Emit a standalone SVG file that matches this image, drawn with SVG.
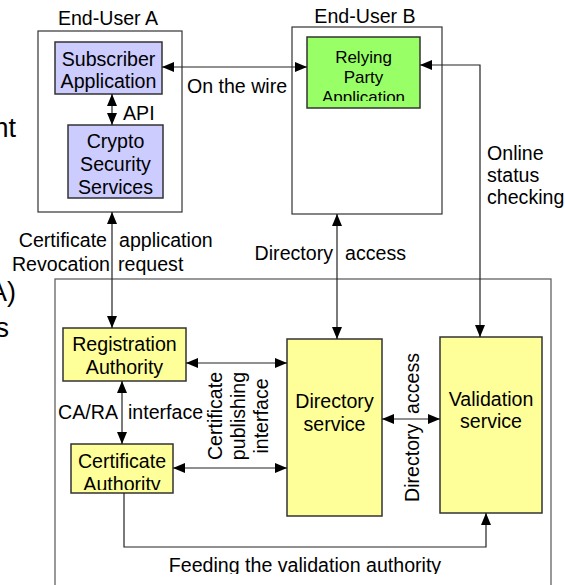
<svg xmlns="http://www.w3.org/2000/svg" width="565" height="585" viewBox="0 0 565 585">
<style>
text{font-family:"Liberation Sans",Arial,sans-serif;font-size:19.6px;fill:#000}
.c{text-anchor:middle}
.frame{fill:#fff;stroke:#333;stroke-width:1.2}
.big{fill:none;stroke:#555;stroke-width:1.2}
.lav{fill:#ccccff;stroke:#333;stroke-width:1.5}
.yel{fill:#ffff99;stroke:#333;stroke-width:1.5}
.grn{fill:#99ff66;stroke:#333;stroke-width:1.5}
.ln{fill:none;stroke:#222;stroke-width:1.2}
.frag{font-size:27px}
</style>
<defs>
<marker id="ah" viewBox="0 0 12 10" refX="12" refY="5" markerWidth="12" markerHeight="10" markerUnits="userSpaceOnUse" orient="auto-start-reverse">
<path d="M0,0 L12,5 L0,10 z" fill="#000"/>
</marker>
<clipPath id="clipRP"><rect x="300" y="30" width="130" height="71"/></clipPath>
<clipPath id="clipCA"><rect x="65" y="440" width="115" height="50"/></clipPath>
<clipPath id="clipFeed"><rect x="100" y="540" width="400" height="34"/></clipPath>
</defs>

<g id="background-fragments">
<text class="frag" x="16" y="137" text-anchor="end">nt</text>
<text class="frag" x="16" y="301" text-anchor="end">A)</text>
<text class="frag" x="9" y="337" text-anchor="end">s</text>
</g>

<g id="end-user-a">
<rect class="frame" x="38" y="31" width="144" height="181"/>
<text class="c" x="108" y="25">End-User A</text>
</g>

<g id="end-user-b">
<rect class="frame" x="292" y="27" width="150" height="187"/>
<text class="c" x="365" y="23">End-User B</text>
</g>

<g id="pki-domain">
<rect class="big" x="55" y="279" width="496" height="320"/>
</g>

<g id="subscriber-application">
<rect class="lav" x="55" y="42" width="107" height="52"/>
<text class="c" x="108.5" y="66">Subscriber</text>
<text class="c" x="108.5" y="88">Application</text>
</g>

<g id="crypto-security-services">
<rect class="lav" x="68" y="125" width="95" height="73"/>
<text class="c" x="115.5" y="148">Crypto</text>
<text class="c" x="115.5" y="171">Security</text>
<text class="c" x="115.5" y="194">Services</text>
</g>

<g id="relying-party-application">
<rect class="grn" x="307" y="37" width="113" height="71"/>
<g clip-path="url(#clipRP)">
<text class="c" x="363.5" y="63" style="font-size:17px">Relying</text>
<text class="c" x="363.5" y="83" style="font-size:17px">Party</text>
<text class="c" x="363.5" y="103" style="font-size:17px">Application</text>
</g>
</g>

<g id="registration-authority">
<rect class="yel" x="63" y="328" width="123" height="53"/>
<text class="c" x="124.5" y="351">Registration</text>
<text class="c" x="124.5" y="374">Authority</text>
</g>

<g id="certificate-authority">
<rect class="yel" x="71" y="444" width="102" height="49"/>
<g clip-path="url(#clipCA)">
<text class="c" x="122" y="468">Certificate</text>
<text class="c" x="122" y="491">Authority</text>
</g>
</g>

<g id="directory-service">
<rect class="yel" x="287" y="339" width="95" height="177"/>
<text class="c" x="334.5" y="408">Directory</text>
<text class="c" x="334.5" y="431">service</text>
</g>

<g id="validation-service">
<rect class="yel" x="440" y="337" width="102" height="176"/>
<text class="c" x="491" y="406">Validation</text>
<text class="c" x="491" y="428">service</text>
</g>

<g id="connectors">
<line class="ln" x1="112" y1="94" x2="112" y2="125" marker-start="url(#ah)" marker-end="url(#ah)"/>
<line class="ln" x1="162" y1="67" x2="307" y2="67" marker-start="url(#ah)" marker-end="url(#ah)"/>
<polyline class="ln" points="420,65 480,65 480,337" marker-start="url(#ah)" marker-end="url(#ah)"/>
<line class="ln" x1="337" y1="214" x2="337" y2="339" marker-start="url(#ah)" marker-end="url(#ah)"/>
<line class="ln" x1="112" y1="212" x2="112" y2="328" marker-start="url(#ah)" marker-end="url(#ah)"/>
<line class="ln" x1="122" y1="381" x2="122" y2="444" marker-start="url(#ah)" marker-end="url(#ah)"/>
<line class="ln" x1="186" y1="363" x2="287" y2="363" marker-start="url(#ah)" marker-end="url(#ah)"/>
<line class="ln" x1="173" y1="468" x2="287" y2="468" marker-start="url(#ah)" marker-end="url(#ah)"/>
<line class="ln" x1="382" y1="419" x2="440" y2="419" marker-start="url(#ah)" marker-end="url(#ah)"/>
<polyline class="ln" points="124,493 124,547 486,547 486,513" marker-end="url(#ah)"/>
</g>

<g id="connector-labels">
<text x="123" y="120">API</text>
<text class="c" x="237" y="93">On the wire</text>
<text x="487" y="160">Online</text>
<text x="487" y="182">status</text>
<text x="487" y="204">checking</text>
<text x="333" y="260" text-anchor="end">Directory</text>
<text x="345" y="260">access</text>
<text x="107" y="247" text-anchor="end">Certificate</text>
<text x="119" y="247">application</text>
<text x="110" y="271" text-anchor="end">Revocation</text>
<text x="118" y="271">request</text>
<text x="118" y="419" text-anchor="end">CA/RA</text>
<text x="128" y="419">interface</text>
<text class="c" transform="translate(222,416) rotate(-90)">Certificate</text>
<text class="c" transform="translate(245,416) rotate(-90)">publishing</text>
<text class="c" transform="translate(268,416) rotate(-90)">interface</text>
<text transform="translate(419,502) rotate(-90)">Directory</text>
<text transform="translate(419,353) rotate(-90)" text-anchor="end">access</text>
<g clip-path="url(#clipFeed)">
<text class="c" x="305" y="572">Feeding the validation authority</text>
</g>
</g>
</svg>
